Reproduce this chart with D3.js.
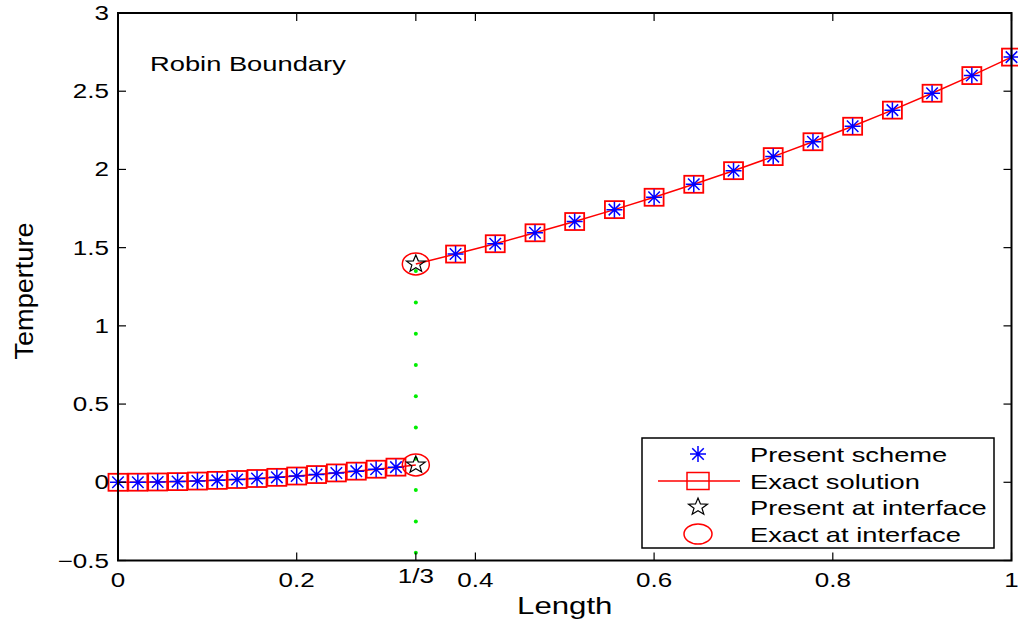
<!DOCTYPE html>
<html><head><meta charset="utf-8">
<script src="https://cdn.jsdelivr.net/npm/d3@7"></script>
<style>body{margin:0;background:#fff}text{font-family:"Liberation Sans",Arial,sans-serif;fill:#000}</style>
</head><body>
<svg id="c" width="1018" height="622"></svg>
<script>
const xLeft = [0, 0.0222, 0.0444, 0.0667, 0.0889, 0.1111, 0.1333, 0.1556, 0.1778, 0.2, 0.2222, 0.2444, 0.2667, 0.2889, 0.3111];
const yLeftExact = [0, 0.0005, 0.002, 0.0044, 0.0079, 0.0123, 0.0178, 0.0242, 0.0316, 0.04, 0.0494, 0.0598, 0.0711, 0.0835, 0.0968];
const yLeftScheme = [0, 0.0005, 0.002, 0.0044, 0.0079, 0.0123, 0.0178, 0.0242, 0.0316, 0.04, 0.0494, 0.0598, 0.0711, 0.0835, 0.0968];
const xRight = [0.3778, 0.4222, 0.4667, 0.5111, 0.5556, 0.6, 0.6444, 0.6889, 0.7333, 0.7778, 0.8222, 0.8667, 0.9111, 0.9556, 1];
const yRightExact = [1.459, 1.525, 1.595, 1.667, 1.743, 1.822, 1.905, 1.992, 2.082, 2.177, 2.276, 2.379, 2.487, 2.600, 2.718];
const yRightScheme = [1.459, 1.525, 1.595, 1.667, 1.743, 1.822, 1.905, 1.992, 2.082, 2.177, 2.276, 2.379, 2.487, 2.600, 2.718];
const xInterface = 1/3;
const yInterface = [0.111, 1.396];
const yInterfaceLine = [-0.45, -0.25, -0.05, 0.15, 0.35, 0.55, 0.75, 0.95, 1.15, 1.35];
const xTicks = [0, 0.2, 1/3, 0.4, 0.6, 0.8, 1];
const xTickLabels = ["0", "0.2", "1/3", "0.4", "0.6", "0.8", "1"];
const yTicks = [-0.5, 0, 0.5, 1, 1.5, 2, 2.5, 3];
const yTickLabels = ["\u22120.5", "0", "0.5", "1", "1.5", "2", "2.5", "3"];
const legendLabels = ["Present scheme", "Exact solution", "Present at interface", "Exact at interface"];
const titleText = "Robin Boundary";

const svg = d3.select("#c");
const L = 118, R = 1011.5, T = 13, B = 560.5;
const x = d3.scaleLinear().domain([0, 1]).range([L, R]);
const y = d3.scaleLinear().domain([-0.5, 3]).range([B, T]);
const SX = 1.3;

function stretch(sel) {
  sel.each(function() {
    const w = this.getComputedTextLength();
    d3.select(this).attr("textLength", w * SX).attr("lengthAdjust", "spacingAndGlyphs");
  });
}

const plot = svg.append("g");

// exact solution lines
const line = d3.line().x(d => x(d[0])).y(d => y(d[1]));
const leftPts = xLeft.map((v, i) => [v, yLeftExact[i]]).concat([[xInterface, yInterface[0]]]);
const rightPts = [[xInterface, yInterface[1]]].concat(xRight.map((v, i) => [v, yRightExact[i]]));
[leftPts, rightPts].forEach(p => plot.append("path").attr("d", line(p)).attr("fill", "none").attr("stroke", "#ff0000").attr("stroke-width", 1.5));

// squares
const exactPts = xLeft.map((v, i) => [v, yLeftExact[i]]).concat(xRight.map((v, i) => [v, yRightExact[i]]));
plot.selectAll("rect.sq").data(exactPts).join("rect").attr("class", "sq")
  .attr("x", d => x(d[0]) - 9.5).attr("y", d => y(d[1]) - 8.5).attr("width", 19).attr("height", 17)
  .attr("fill", "none").attr("stroke", "#ff0000").attr("stroke-width", 1.8);

// asterisks
function asterisk(g, cx, cy, h, w) {
  const p = `M${cx - w},${cy}L${cx + w},${cy}M${cx},${cy - h}L${cx},${cy + h}` +
    `M${cx - w * 0.72},${cy - h * 0.72}L${cx + w * 0.72},${cy + h * 0.72}M${cx - w * 0.72},${cy + h * 0.72}L${cx + w * 0.72},${cy - h * 0.72}`;
  g.append("path").attr("d", p).attr("stroke", "#0000ff").attr("stroke-width", 1.5).attr("fill", "none");
}
const schemePts = xLeft.map((v, i) => [v, yLeftScheme[i]]).concat(xRight.map((v, i) => [v, yRightScheme[i]]));
schemePts.forEach(d => asterisk(plot, x(d[0]), y(d[1]), 8, 8));

// interface green dots
plot.selectAll("circle.gd").data(yInterfaceLine).join("circle").attr("class", "gd")
  .attr("cx", x(xInterface)).attr("cy", d => y(d)).attr("r", 2).attr("fill", "#00ee00");

// stars
function starPath(cx, cy, ro, ri) {
  let s = "";
  for (let k = 0; k < 10; k++) {
    const r = k % 2 ? ri : ro;
    const a = -Math.PI / 2 + k * Math.PI / 5;
    s += (k ? "L" : "M") + (cx + r * Math.cos(a) * 1.1) + "," + (cy + r * Math.sin(a));
  }
  return s + "Z";
}
yInterface.forEach(v => {
  plot.append("path").attr("d", starPath(x(xInterface), y(v), 9, 3.8)).attr("fill", "none").attr("stroke", "#000").attr("stroke-width", 1.2);
  plot.append("ellipse").attr("cx", x(xInterface)).attr("cy", y(v)).attr("rx", 13.5).attr("ry", 11)
    .attr("fill", "none").attr("stroke", "#ff0000").attr("stroke-width", 1.5);
});

// axes frame and ticks
const ax = svg.append("g");
ax.append("rect").attr("x", L).attr("y", T).attr("width", R - L).attr("height", B - T)
  .attr("fill", "none").attr("stroke", "#000").attr("stroke-width", 2);
const tl = 8;
xTicks.forEach(t => {
  ax.append("line").attr("x1", x(t)).attr("x2", x(t)).attr("y1", B).attr("y2", B - tl).attr("stroke", "#000").attr("stroke-width", 1.2);
  ax.append("line").attr("x1", x(t)).attr("x2", x(t)).attr("y1", T).attr("y2", T + tl).attr("stroke", "#000").attr("stroke-width", 1.2);
});
yTicks.forEach(t => {
  ax.append("line").attr("x1", L).attr("x2", L + tl).attr("y1", y(t)).attr("y2", y(t)).attr("stroke", "#000").attr("stroke-width", 1.2);
  ax.append("line").attr("x1", R).attr("x2", R - tl).attr("y1", y(t)).attr("y2", y(t)).attr("stroke", "#000").attr("stroke-width", 1.2);
});
ax.selectAll("text.xt").data(xTicks).join("text").attr("class", "xt")
  .attr("x", d => x(d)).attr("y", (d, i) => xTickLabels[i] === "1/3" ? 583 : 587)
  .attr("text-anchor", "middle").attr("font-size", 20).text((d, i) => xTickLabels[i]).call(stretch);
ax.selectAll("text.yt").data(yTicks).join("text").attr("class", "yt")
  .attr("x", 109).attr("y", d => y(d) + 7)
  .attr("text-anchor", "end").attr("font-size", 20).text((d, i) => yTickLabels[i]).call(stretch);

svg.append("text").attr("x", (L + R) / 2).attr("y", 614).attr("text-anchor", "middle").attr("font-size", 24).text("Length").call(stretch);
svg.append("text").attr("transform", "translate(33,291) rotate(-90)").attr("text-anchor", "middle").attr("font-size", 26)
  .text("Temperture").attr("textLength", 137).attr("lengthAdjust", "spacingAndGlyphs");
svg.append("text").attr("x", 150).attr("y", 71).attr("font-size", 21).text(titleText).call(stretch);

// legend
const lg = svg.append("g");
lg.append("rect").attr("x", 642).attr("y", 438).attr("width", 352).attr("height", 110).attr("fill", "#fff").attr("stroke", "#000").attr("stroke-width", 1.5);
const ly = [454, 481, 507, 534];
const mx = 698;
asterisk(lg, mx, ly[0], 8, 8);
lg.append("line").attr("x1", 658).attr("x2", 740).attr("y1", ly[1]).attr("y2", ly[1]).attr("stroke", "#ff0000").attr("stroke-width", 1.5);
lg.append("rect").attr("x", mx - 11).attr("y", ly[1] - 8.5).attr("width", 22).attr("height", 17).attr("fill", "none").attr("stroke", "#ff0000").attr("stroke-width", 1.5);
lg.append("path").attr("d", starPath(mx, ly[2], 9, 3.8)).attr("fill", "none").attr("stroke", "#000").attr("stroke-width", 1.2);
lg.append("ellipse").attr("cx", mx).attr("cy", ly[3]).attr("rx", 14).attr("ry", 10).attr("fill", "none").attr("stroke", "#ff0000").attr("stroke-width", 1.5);
lg.selectAll("text.lt").data(legendLabels).join("text").attr("class", "lt")
  .attr("x", 750).attr("y", (d, i) => ly[i] + 7.5).attr("font-size", 21).text(d => d).call(stretch);
</script>
</body></html>
